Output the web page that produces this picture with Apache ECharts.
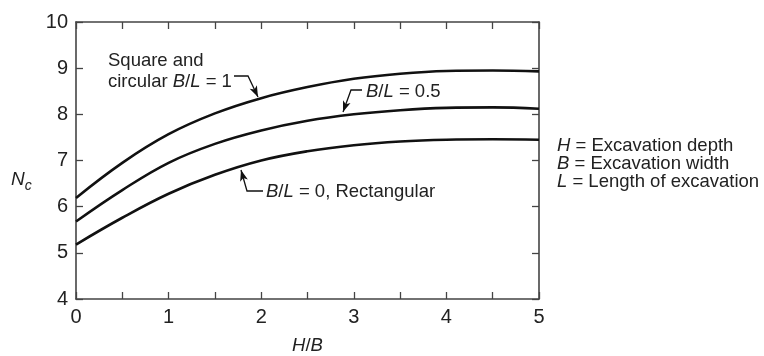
<!DOCTYPE html>
<html>
<head>
<meta charset="utf-8">
<script src="https://cdn.jsdelivr.net/npm/echarts@6/dist/echarts.min.js"></script>
<style>html,body{margin:0;padding:0;background:#fff}#c{width:764px;height:356px}</style>
</head>
<body>
<div id="c"></div>
<script>
const xValues = [0, 0.5, 1, 1.5, 2, 2.5, 3, 3.5, 4, 4.5, 5];
const squareCircular = [6.19, 6.95, 7.57, 8.02, 8.35, 8.59, 8.77, 8.88, 8.94, 8.95, 8.93];
const halfRatio = [5.68, 6.36, 6.95, 7.36, 7.65, 7.86, 8.00, 8.09, 8.14, 8.15, 8.12];
const rectangular = [5.18, 5.76, 6.28, 6.69, 7.00, 7.20, 7.33, 7.41, 7.45, 7.46, 7.45];
const xTicks = [0, 1, 2, 3, 4, 5];
const yTicks = [4, 5, 6, 7, 8, 9, 10];

const FONT = '"Liberation Sans", Arial, sans-serif';
const AX = '#444';
const TXT = '#222';
const FS = 18.5;

function pairs(ys) { return xValues.map((x, i) => [x, ys[i]]); }

function arrow(pts) {
  const n = pts.length;
  const [x1, y1] = pts[n - 2], [x2, y2] = pts[n - 1];
  const a = Math.atan2(y2 - y1, x2 - x1);
  const L = 11, W = 4;
  const bx = x2 - L * Math.cos(a), by = y2 - L * Math.sin(a);
  const px = -Math.sin(a), py = Math.cos(a);
  return [
    { type: 'polyline', shape: { points: pts }, style: { stroke: '#111', lineWidth: 1.3, fill: null }, z: 10 },
    { type: 'polygon', shape: { points: [[x2, y2], [bx + px * W, by + py * W], [bx + (x2 - bx) * 0.25, by + (y2 - by) * 0.25], [bx - px * W, by - py * W]] }, style: { fill: '#111' }, z: 10 }
  ];
}

const italicRich = {
  i: { fontFamily: FONT, fontSize: FS, fontStyle: 'italic', fill: TXT, color: TXT },
  n: { fontFamily: FONT, fontSize: FS, fill: TXT, color: TXT },
  N: { fontFamily: FONT, fontSize: 19, fontStyle: 'italic', fill: TXT, color: TXT },
  s: { fontFamily: FONT, fontSize: 14, fontStyle: 'italic', fill: TXT, color: TXT, padding: [12, 0, 0, 0] }
};

function txt(x, y, text, align) {
  return { type: 'text', x: x, y: y, style: { text: text, rich: italicRich, font: FS + 'px ' + FONT, fill: TXT, align: align || 'left', verticalAlign: 'middle' }, z: 10 };
}

const chart = echarts.init(document.getElementById('c'), null, { renderer: 'canvas' });

const lineStyle = { color: '#111', width: 2.6 };
const seriesBase = { type: 'line', smooth: 0.4, showSymbol: false, symbol: 'none', lineStyle: lineStyle, silent: true };

const axisCommon = {
  min: 0, max: 5, interval: 0.5,
  axisLine: { show: true, onZero: false, lineStyle: { color: AX, width: 1.6 } },
  axisTick: { show: true, inside: true, length: 7, lineStyle: { color: AX, width: 1.3 } },
  splitLine: { show: false }
};
const yCommon = {
  min: 4, max: 10, interval: 1,
  axisLine: { show: true, onZero: false, lineStyle: { color: AX, width: 1.6 } },
  axisTick: { show: true, inside: true, length: 7, lineStyle: { color: AX, width: 1.3 } },
  splitLine: { show: false }
};

chart.setOption({
  animation: false,
  backgroundColor: '#fff',
  grid: { left: 76, right: 225, top: 22, bottom: 57, containLabel: false, outerBoundsMode: 'none' },
  xAxis: [
    Object.assign({}, axisCommon, {
      type: 'value', position: 'bottom',
      axisLabel: { fontFamily: FONT, fontSize: 20, color: TXT, margin: 8,
        formatter: v => (xTicks.indexOf(v) >= 0 ? String(v) : '') },
      name: '{i|H}{n|/}{i|B}', nameLocation: 'middle', nameGap: 37,
      nameTextStyle: { rich: italicRich }
    }),
    Object.assign({}, axisCommon, { type: 'value', position: 'top', axisLabel: { show: false } })
  ],
  yAxis: [
    Object.assign({}, yCommon, {
      type: 'value', position: 'left',
      axisLabel: { fontFamily: FONT, fontSize: 20, color: TXT, margin: 8,
        formatter: v => (yTicks.indexOf(v) >= 0 ? String(v) : '') }
    }),
    Object.assign({}, yCommon, { type: 'value', position: 'right', axisLabel: { show: false } })
  ],
  series: [
    Object.assign({}, seriesBase, { name: 'B/L = 1', data: pairs(squareCircular) }),
    Object.assign({}, seriesBase, { name: 'B/L = 0.5', data: pairs(halfRatio) }),
    Object.assign({}, seriesBase, { name: 'B/L = 0', data: pairs(rectangular) })
  ],
  graphic: [].concat(
    [txt(11, 180, '{N|N}{s|c}')],
    [txt(108, 61, '{n|Square and}'), txt(108, 82, '{n|circular }{i|B}{n|/}{i|L}{n| = 1}')],
    arrow([[234, 76], [248, 76], [258, 97]]),
    [txt(366, 92, '{i|B}{n|/}{i|L}{n| = 0.5}')],
    arrow([[362, 90], [351, 90], [343, 112]]),
    [txt(266, 192, '{i|B}{n|/}{i|L}{n| = 0, Rectangular}')],
    arrow([[263, 191], [247, 191], [241, 170]]),
    [txt(557, 146, '{i|H}{n| = Excavation depth}'),
     txt(557, 164, '{i|B}{n| = Excavation width}'),
     txt(557, 182, '{i|L}{n| = Length of excavation}')]
  )
});
</script>
</body>
</html>
